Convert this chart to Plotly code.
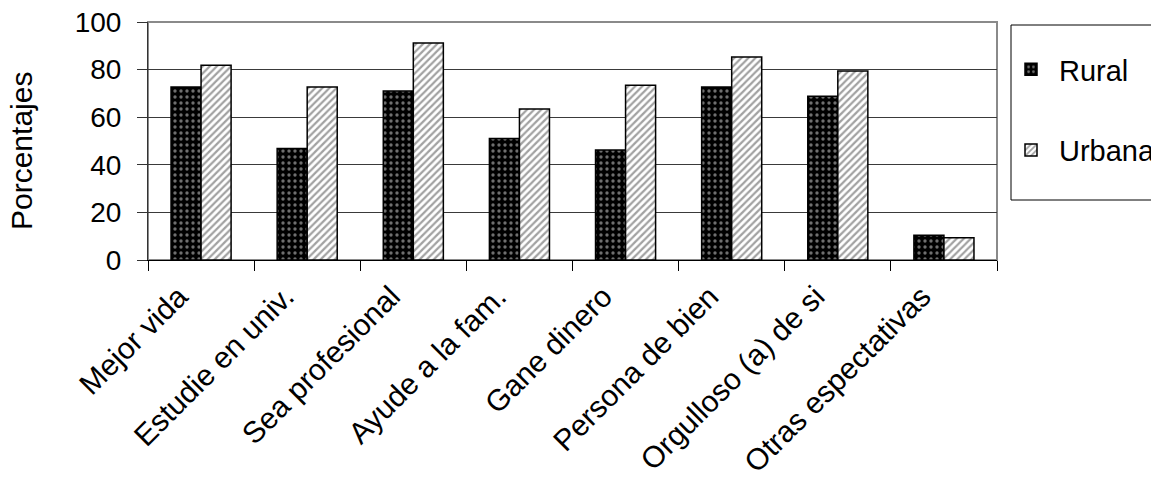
import plotly.graph_objects as go

categories = ["Mejor vida", "Estudie en univ.", "Sea profesional", "Ayude a la fam.",
              "Gane dinero", "Persona de bien", "Orgulloso (a) de si", "Otras espectativas"]
rural = [72.7, 46.9, 71.0, 51.1, 46.2, 72.7, 68.8, 10.4]
urbana = [81.8, 72.7, 91.2, 63.4, 73.4, 85.3, 79.4, 9.3]
y_ticks = [0, 20, 40, 60, 80, 100]
title_text = "Expectativas de los padres respecto al hijo (%)"
y_title = "Porcentajes"

W, H = 1151, 479
ML, MR, MT, MB = 148, 154, 22, 219
PW, PH = W - ML - MR, H - MT - MB

def px_x(p):
    return (p - ML) / PW

def px_y(p):
    return (MT + PH - p) / PH

FONT = "Liberation Sans, Arial, sans-serif"

fig = go.Figure()
fig.add_trace(go.Bar(
    x=categories, y=rural, name="Rural", legendgroup="r",
    marker=dict(color="black", line=dict(color="black", width=1.5),
                pattern=dict(shape=".", fgcolor="#dddddd", bgcolor="black", size=6, solidity=0.25)),
))
fig.add_trace(go.Bar(
    x=categories, y=urbana, name="Urbana", legendgroup="u",
    marker=dict(color="white", line=dict(color="black", width=1.5),
                pattern=dict(shape="/", fgcolor="#444444", bgcolor="white", size=5, solidity=0.45)),
))

fig.update_layout(
    width=W, height=H,
    margin=dict(l=ML, r=MR, t=MT, b=MB, autoexpand=False),
    paper_bgcolor="white", plot_bgcolor="white",
    font=dict(family=FONT, size=28, color="black"),
    barmode="group", bargap=0.434, bargroupgap=0,
    showlegend=True,
    legend=dict(x=px_x(1003), y=px_y(44), xanchor="left", yanchor="top",
                bgcolor="rgba(0,0,0,0)", borderwidth=0, itemwidth=46,
                font=dict(size=29), tracegroupgap=40, traceorder="grouped"),
    xaxis=dict(type="category", tickangle=-45, ticks="outside", tickson="boundaries",
               ticklen=10, tickcolor="black", showline=True, linecolor="black", linewidth=1,
               showgrid=False, tickfont=dict(size=30), ticklabelshift=-22, ticklabelstandoff=6),
    yaxis=dict(range=[0, 100], tickvals=y_ticks, ticks="outside", ticklen=10,
               tickcolor="#333", showline=True, linecolor="#333", linewidth=1,
               showgrid=True, gridcolor="#3a3a3a", gridwidth=1, zeroline=False,
               tickfont=dict(size=28), ticklabelstandoff=10),
)

# plot-area border (top/right gray)
fig.add_shape(type="rect", xref="paper", yref="paper", x0=0, x1=1, y0=0, y1=1,
              line=dict(color="#8a8a8a", width=2), layer="below")
# legend box
fig.add_shape(type="rect", xref="paper", yref="paper",
              x0=px_x(1011), x1=px_x(1200), y0=px_y(200), y1=px_y(25),
              line=dict(color="black", width=1))

fig.add_annotation(text=y_title, xref="paper", yref="paper", x=px_x(21.5), y=px_y(151.5),
                   textangle=-90, showarrow=False, xanchor="center", yanchor="middle",
                   font=dict(size=30))
fig.add_annotation(text="<b>" + title_text + "</b>", xref="paper", yref="paper",
                   x=px_x(444), y=px_y(-15.5), xanchor="right", yanchor="middle",
                   showarrow=False, font=dict(size=28))

fig.write_html("out.html", config={"displayModeBar": False},
               post_script="document.body.style.margin='0';document.body.style.overflow='hidden';")
